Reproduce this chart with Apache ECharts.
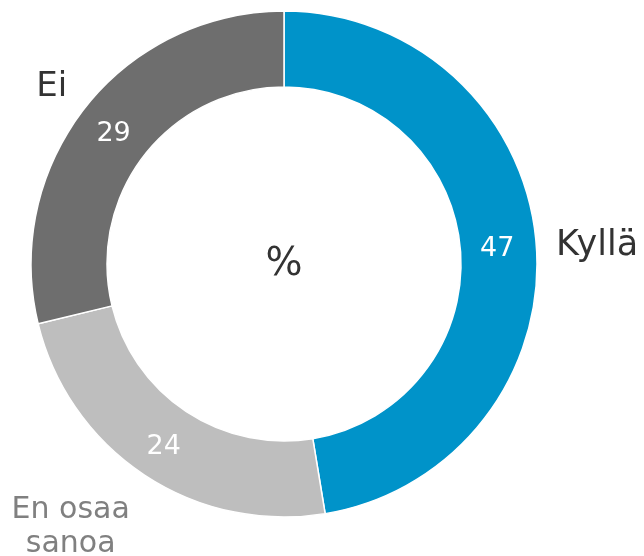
<!DOCTYPE html>
<html><head><meta charset="utf-8">
<script src="https://cdn.jsdelivr.net/npm/echarts@6/dist/echarts.min.js"></script>
<style>html,body{margin:0;padding:0;background:#fff}#c{width:644px;height:556px}</style>
</head><body><div id="c"></div>
<script>
const categories = ['Kyllä', 'En osaa\nsanoa', 'Ei'];
const values = [47.4, 23.8, 28.8];
const colors = ['#0093C9', '#BEBEBE', '#6E6E6E'];
const nameColors = ['#333333', '#808080', '#333333'];
const nameOffsets = [[0, 4], [2, 40], [-1, -11]];
const valueOffsets = [[-4, 3], [0, 1], [1, 5]];
const nameSizes = [35, 30, 34];
const centerText = '%';

const font = 'DejaVu Sans, Verdana, sans-serif';
const chart = echarts.init(document.getElementById('c'));
const pieBase = {
  type: 'pie', center: [284, 264], radius: [177, 253], startAngle: 90, clockwise: true,
  avoidLabelOverlap: false, silent: true, animation: false
};
chart.setOption({
  animation: false,
  graphic: [{ type: 'text', x: 284, y: 265, style: { text: centerText, font: '39px ' + font, fill: '#333', align: 'center', verticalAlign: 'middle' } }],
  series: [
    Object.assign({}, pieBase, {
      itemStyle: { borderColor: '#fff', borderWidth: 1.5 },
      label: { show: true, position: 'inside', color: '#fff', fontFamily: font, fontSize: 27, formatter: p => Math.round(p.value) },
      labelLine: { show: false },
      data: categories.map((c, i) => ({ name: c, value: values[i], itemStyle: { color: colors[i] }, label: { offset: valueOffsets[i] } }))
    }),
    Object.assign({}, pieBase, {
      z: 3,
      itemStyle: { color: 'rgba(0,0,0,0)', borderWidth: 0 },
      label: {
        show: true, position: 'outside', fontFamily: font, lineHeight: 34,
        formatter: p => p.name.split('\n').map(s => '{c|' + s + '}').join('\n'),
        rich: { c: { width: 125, align: 'center', fontFamily: font, fontSize: 30, lineHeight: 34, color: '#808080' } }
      },
      labelLine: { show: false, length: 15, length2: 0 },
      data: categories.map((c, i) => ({
        name: c, value: values[i],
        label: i === 1
          ? { offset: nameOffsets[i] }
          : { color: nameColors[i], offset: nameOffsets[i], fontSize: nameSizes[i], formatter: p => p.name }
      }))
    })
  ]
});
</script></body></html>
